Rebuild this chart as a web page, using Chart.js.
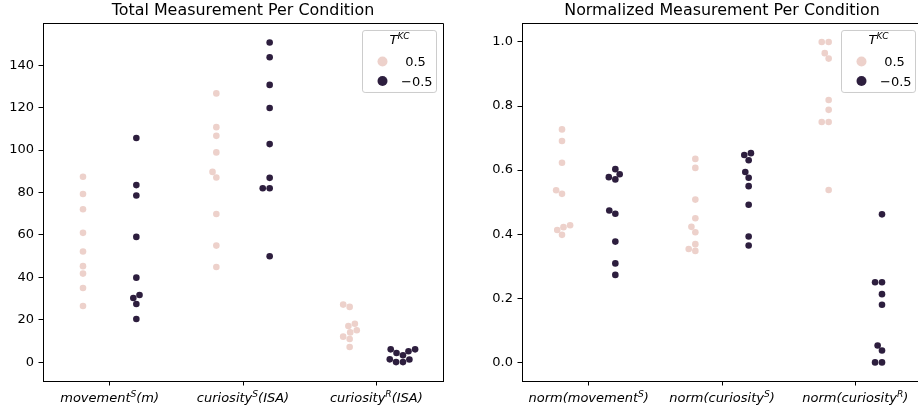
<!DOCTYPE html>
<html>
<head>
<meta charset="utf-8">
<script src="https://cdn.jsdelivr.net/npm/chart.js@4.4.0/dist/chart.umd.min.js"></script>
<style>
  html, body { margin: 0; padding: 0; background: #fff; overflow: hidden; width: 918px; height: 412px; }
  canvas { position: absolute; top: 0; }
  #total { left: 0; }
  #norm { left: 479px; }
</style>
</head>
<body>
<canvas id="total" width="460" height="412"></canvas>
<canvas id="norm" width="460" height="412"></canvas>
<script>
// categories, ticks and values
const totalCategories = ['movement^{S}(m)', 'curiosity^{S}(ISA)', 'curiosity^{R}(ISA)'];
const normCategories = ['norm(movement^{S})', 'norm(curiosity^{S})', 'norm(curiosity^{R})'];
const hueTitle = 'T^{KC}';
const hueLabels = ['0.5', '−0.5'];

// T^KC = 0.5
const totalHigh = [
  [87.4, 79.3, 72.1, 61.0, 52.2, 45.3, 41.8, 35.0, 26.5],
  [126.7, 110.8, 106.7, 98.9, 89.7, 87.1, 69.9, 55.0, 44.9],
  [27.2, 26.1, 18.2, 17.1, 15.1, 14.1, 12.1, 11.0, 7.2]
];
// T^KC = -0.5
const totalLow = [
  [105.7, 83.5, 78.6, 59.1, 39.9, 31.7, 30.3, 27.5, 20.4],
  [150.7, 143.7, 130.7, 119.8, 102.8, 86.9, 82.0, 82.0, 50.0],
  [6.1, 6.1, 5.2, 4.4, 3.3, 1.4, 1.3, 0.1, 0.1]
];
const normHigh = [
  [0.727, 0.691, 0.623, 0.537, 0.526, 0.428, 0.422, 0.413, 0.398],
  [0.635, 0.607, 0.508, 0.45, 0.423, 0.406, 0.369, 0.354, 0.348],
  [1.0, 1.0, 0.965, 0.948, 0.819, 0.788, 0.75, 0.75, 0.538]
];
const normLow = [
  [0.603, 0.587, 0.578, 0.571, 0.474, 0.464, 0.377, 0.309, 0.273],
  [0.653, 0.647, 0.631, 0.594, 0.576, 0.55, 0.492, 0.393, 0.365],
  [0.462, 0.25, 0.25, 0.213, 0.18, 0.053, 0.037, 0.0, 0.0]
];

const totalTicks = [0, 20, 40, 60, 80, 100, 120, 140];
const normTicks = [0, 0.2, 0.4, 0.6, 0.8, 1.0];

const FONT = "'DejaVu Sans', sans-serif";
const hueColors = ['#edd1cb', '#2d1e3e'];
const DODGE = 0.2;
const POINT_R = 3.3;

Chart.defaults.font.family = FONT;

// draws "abc^{X}def" with a small raised part, centred on cx
function drawRich(ctx, str, cx, baseline, size, italic) {
  const parts = [];
  str.split(/(\^\{[^}]*\})/).forEach(s => {
    if (!s) return;
    const m = s.match(/^\^\{(.*)\}$/);
    parts.push(m ? { t: m[1], sup: true } : { t: s, sup: false });
  });
  const fontOf = p => (italic ? 'italic ' : '') + (p.sup ? size * 0.7 : size) + 'px ' + FONT;
  let total = 0;
  parts.forEach(p => { ctx.font = fontOf(p); p.w = ctx.measureText(p.t).width; total += p.w; });
  let x = cx - total / 2;
  ctx.textAlign = 'left';
  ctx.textBaseline = 'alphabetic';
  parts.forEach(p => {
    ctx.font = fontOf(p);
    ctx.fillText(p.t, x, baseline - (p.sup ? size * 0.42 : 0));
    x += p.w;
  });
}

// seaborn-like swarm placement, coordinates in pixels (y grows with value)
function beeswarm(pts, r) {
  const mid = pts[0].x;
  const swarm = [pts[0]];
  for (let i = 1; i < pts.length; i++) {
    const p = pts[i];
    const nb = [];
    for (let j = swarm.length - 1; j >= 0; j--) {
      if (p.y - swarm[j].y < 2 * r) nb.push(swarm[j]); else break;
    }
    let cands = [{ x: p.x, y: p.y }];
    let leftFirst = true;
    nb.forEach(q => {
      const dy = p.y - q.y;
      const dx = Math.sqrt(Math.max(4 * r * r - dy * dy, 0)) * 1.05;
      const cl = { x: q.x - dx, y: p.y }, cr = { x: q.x + dx, y: p.y };
      cands.push(...(leftFirst ? [cl, cr] : [cr, cl]));
      leftFirst = !leftFirst;
    });
    cands = cands.map((c, k) => ({ ...c, k }))
      .sort((a, b) => (Math.abs(a.x - mid) - Math.abs(b.x - mid)) || (a.k - b.k));
    let chosen = cands[0];
    if (nb.length) {
      chosen = cands.find(c => nb.every(q => (q.x - c.x) ** 2 + (q.y - c.y) ** 2 >= 4 * r * r)) || cands[0];
    }
    swarm.push(chosen);
  }
  return swarm;
}

function applySwarm(chart) {
  const xs = chart.scales.x, ys = chart.scales.y;
  chart.data.datasets.forEach(ds => {
    const groups = {};
    ds.data.forEach(p => (groups[p.group] = groups[p.group] || []).push(p));
    Object.values(groups).forEach(pts => {
      const order = pts.slice().sort((a, b) => a.y - b.y);
      const cx = xs.getPixelForValue(order[0].x);
      const placed = beeswarm(order.map(p => ({ x: cx, y: -ys.getPixelForValue(p.y) })), POINT_R);
      order.forEach((p, i) => { p.x = xs.getValueForPixel(placed[i].x); });
    });
  });
  chart.update('none');
}

const framePlugin = categories => ({
  id: 'frame',
  afterDraw(chart) {
    const ctx = chart.ctx, ca = chart.chartArea, xs = chart.scales.x;
    ctx.save();
    // top and right spines
    ctx.strokeStyle = '#000';
    ctx.lineWidth = 1;
    const top = Math.round(ca.top - 0.5) + 0.5, right = Math.round(ca.right - 0.5) + 0.5;
    ctx.beginPath();
    ctx.moveTo(ca.left, top);
    ctx.lineTo(right, top);
    ctx.lineTo(right, ca.bottom);
    ctx.stroke();

    // category labels
    ctx.fillStyle = '#000';
    categories.forEach((c, i) => drawRich(ctx, c, xs.getPixelForValue(i), ca.bottom + 21, 13, true));

    // legend
    const bw = 74, bh = 62, rr = 2.6;
    const bx = ca.right - 6.5 - bw, by = ca.top + 6.5;
    ctx.beginPath();
    ctx.moveTo(bx + rr, by);
    ctx.lineTo(bx + bw - rr, by);
    ctx.arcTo(bx + bw, by, bx + bw, by + rr, rr);
    ctx.lineTo(bx + bw, by + bh - rr);
    ctx.arcTo(bx + bw, by + bh, bx + bw - rr, by + bh, rr);
    ctx.lineTo(bx + rr, by + bh);
    ctx.arcTo(bx, by + bh, bx, by + bh - rr, rr);
    ctx.lineTo(bx, by + rr);
    ctx.arcTo(bx, by, bx + rr, by, rr);
    ctx.closePath();
    ctx.fillStyle = 'rgba(255,255,255,0.8)';
    ctx.fill();
    ctx.strokeStyle = '#cccccc';
    ctx.stroke();

    ctx.fillStyle = '#000';
    drawRich(ctx, hueTitle, bx + bw / 2, by + 13.5, 13, true);
    hueLabels.forEach((lab, i) => {
      const cy = by + 31 + i * 19.5;
      ctx.beginPath();
      ctx.arc(bx + 20, cy, 5, 0, Math.PI * 2);
      ctx.fillStyle = hueColors[i];
      ctx.fill();
      ctx.fillStyle = '#000';
      ctx.font = '13px ' + FONT;
      ctx.textAlign = 'left';
      ctx.textBaseline = 'alphabetic';
      const pad = lab.startsWith('−') ? 0 : ctx.measureText(' ').width;
      ctx.fillText(lab, bx + 38.5 + pad, cy + 4.7);
    });
    ctx.restore();
  }
});

function makeChart(id, title, categories, high, low, yRange, yTicks, fmt) {
  const datasets = [high, low].map((groups, h) => ({
    label: hueLabels[h],
    data: groups.flatMap((vals, c) => vals.map(v => ({ x: c + (h ? DODGE : -DODGE), y: v, group: c }))),
    backgroundColor: hueColors[h],
    borderWidth: 0,
    pointRadius: POINT_R,
    pointHoverRadius: POINT_R
  }));

  const axisLine = { display: true, color: '#000', width: 1 };
  const tickMarks = { drawOnChartArea: false, drawTicks: true, tickLength: 4.5, color: '#000' };

  const chart = new Chart(document.getElementById(id), {
    type: 'scatter',
    data: { datasets },
    options: {
      responsive: false,
      animation: false,
      events: [],
      layout: { padding: { left: 0, right: 17, top: 0, bottom: 0 } },
      plugins: {
        legend: { display: false },
        tooltip: { enabled: false },
        title: {
          display: true,
          text: title,
          fullSize: false,
          color: '#000',
          font: { family: FONT, size: 15.9, weight: 'normal', lineHeight: 1.2 },
          padding: { top: 1.8, bottom: 3.1 }
        }
      },
      scales: {
        x: {
          type: 'linear',
          min: -0.5,
          max: 2.5,
          afterBuildTicks: s => { s.ticks = categories.map((_, i) => ({ value: i })); },
          afterFit: s => { s.height = 31; },
          ticks: { callback: () => '', font: { size: 13 } },
          grid: tickMarks,
          border: axisLine
        },
        y: {
          min: yRange[0],
          max: yRange[1],
          afterBuildTicks: s => { s.ticks = yTicks.map(v => ({ value: v })); },
          afterFit: s => { s.width = 43; },
          ticks: { callback: v => fmt(v), color: '#000', font: { family: FONT, size: 13 }, padding: 4.5 },
          grid: tickMarks,
          border: axisLine
        }
      }
    },
    plugins: [framePlugin(categories)]
  });
  applySwarm(chart);
  return chart;
}

makeChart('total', 'Total Measurement Per Condition', totalCategories, totalHigh, totalLow,
  [-8.8, 159.4], totalTicks, v => String(v));
makeChart('norm', 'Normalized Measurement Per Condition', normCategories, normHigh, normLow,
  [-0.058, 1.056], normTicks, v => v.toFixed(1));
</script>
</body>
</html>
